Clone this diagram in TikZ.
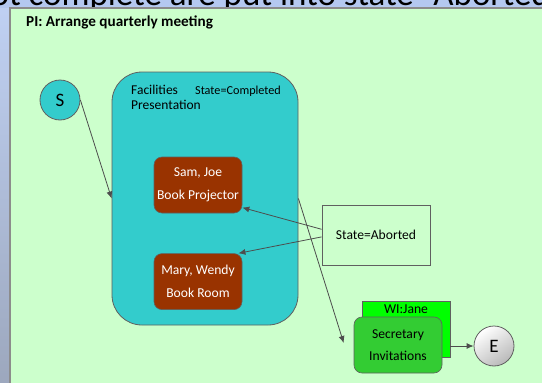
\documentclass[tikz,border=0pt]{standalone}
\usepackage{fontspec}
\setmainfont{Carlito}
\usetikzlibrary{positioning,arrows.meta}
\definecolor{slideblue}{HTML}{B4C8F0}
\definecolor{panelgreen}{HTML}{CCFFCC}
\definecolor{paneledge}{HTML}{8C8C8C}
\definecolor{phasecyan}{HTML}{33CCCC}
\definecolor{taskrust}{HTML}{993300}
\definecolor{wigreen}{HTML}{00FF00}
\definecolor{secgreen}{HTML}{33CC33}
\definecolor{edgegray}{HTML}{606060}
\definecolor{arrowgray}{HTML}{4D4D4D}

\begin{document}
\begin{tikzpicture}[x=1pt, y=-1pt,
  startend/.style={circle, draw=edgegray, line width=0.8pt, minimum size=40pt, inner sep=0pt, font=\fontsize{19}{19}\selectfont},
  phase/.style={rectangle, rounded corners=30pt, draw=edgegray, line width=0.8pt, fill=phasecyan, minimum width=186pt, minimum height=253pt},
  task/.style={rectangle, rounded corners=8pt, draw=edgegray, line width=0.6pt, fill=taskrust, text=white, minimum width=88pt, minimum height=56pt, inner sep=0pt, align=center, font=\fontsize{13.6}{23}\selectfont},
  note/.style={rectangle, draw=edgegray, line width=0.8pt, minimum width=108pt, minimum height=60pt, font=\fontsize{13.6}{13.6}\selectfont},
  wibox/.style={rectangle, draw=edgegray, line width=0.6pt, fill=wigreen, minimum width=88pt, minimum height=56pt},
  secbox/.style={task, fill=secgreen, text=black, font=\fontsize{13.6}{22}\selectfont},
  flow/.style={-{Latex[length=7pt,width=6pt]}, draw=arrowgray, line width=0.8pt},
  node distance=40pt]
  \useasboundingbox (0,0) rectangle (542,383);
  \clip (0,0) rectangle (542,383);
  % slide background
  \fill[slideblue] (0,0) rectangle (542,383);
  \shade[top color=slideblue!85!white, bottom color=slideblue!55!gray] (0,8) rectangle (10,383);
  \node[anchor=base west, inner sep=0pt, font=\fontsize{35}{35}\selectfont] (heading) at (-28,5) {not complete are put into state “Aborted”};
  \fill[panelgreen] (10,8) rectangle (542,383);
  \draw[paneledge, line width=1.5pt] (10,383) -- (10,8) -- (542,8);
  \node[anchor=base west, inner sep=0pt, font=\bfseries\fontsize{15.2}{15.2}\selectfont] (title) at (26,26) {PI: Arrange quarterly meeting};

  \node[startend, fill=phasecyan] (S) at (60,100) {S};
  \node[phase] (fac) at (205,198.5) {};
  \node[anchor=north west, inner sep=0pt, align=left, font=\fontsize{13.5}{15.5}\selectfont] (facname) at (131,84.5) {Facilities\\Presentation};
  \node[anchor=base west, inner sep=0pt, font=\fontsize{12.2}{12.2}\selectfont] (facstate) at (195,94) {State=Completed};
  \node[task] (bp) at (198,185) {Sam, Joe\\Book Projector};
  \node[task, below=of bp] (br) {Mary, Wendy\\Book Room};
  \node[note] (ab) at (376,235) {State=Aborted};
  \node[wibox] (wi) at (406,329) {};
  \node[anchor=base, inner sep=0pt, font=\fontsize{13.6}{13.6}\selectfont] (winame) at ([shift={(0,13)}]wi.north) {WI:Jane};
  \node[secbox] (sec) at (398,345) {Secretary\\Invitations};
  \node[startend, top color=white, bottom color=gray!55, shading angle=35] (E) at (494,346) {E};

  \draw[flow] (S.east) -- (fac.west);
  \draw[flow] (fac.east) -- ([shift={(-10,-2)}]sec.west);
  \draw[flow] (ab.174) -- (bp.-27);
  \draw[flow] (ab.182) -- (br.35);
  \draw[flow] (wi.east |- E.west) -- (E.west);
\end{tikzpicture}
\end{document}
